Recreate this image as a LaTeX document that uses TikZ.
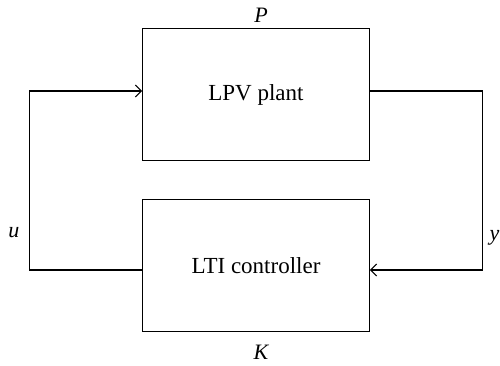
\documentclass[tikz,border=0pt]{standalone}
\usepackage{fontspec}
\setmainfont{Liberation Serif}
\usetikzlibrary{arrows.meta}
\begin{document}
\begin{tikzpicture}[x=1pt,y=-1pt,
  blk/.style={draw,line width=1.1pt,minimum width=226.6pt,minimum height=131.6pt,inner sep=0pt,font=\fontsize{23}{26}\selectfont},
  lbl/.style={font=\fontsize{22}{24}\selectfont\itshape},
  wire/.style={line width=1.1pt},
  arr/.style={wire,-{Straight Barb[length=6pt,width=12pt,line width=1.1pt]}}]
\useasboundingbox (0,0) rectangle (500,366);
\node[blk] (plant) at (256,94.5) {LPV plant};
\node[blk] (ctrl) at (256,265.3) {LTI controller};
\node[lbl] (P) at (261,15) {P};
\node[lbl] (K) at (261,352) {K};
\node[lbl] (u) at (14,233) {u};
\node[lbl,anchor=east,inner sep=0.5pt] (y) at (500,238) {y};
\coordinate (ul) at (29.3,270);
\coordinate (ll) at (29.3,91);
\coordinate (ur) at (482.7,91);
\coordinate (lr) at (482.7,270);
\draw[arr] (ctrl.west |- ul) -- (ul) -- (ll) -- (plant.west |- ll);
\draw[arr] (plant.east |- ur) -- (ur) -- (lr) -- (ctrl.east |- lr);
\end{tikzpicture}
\end{document}
